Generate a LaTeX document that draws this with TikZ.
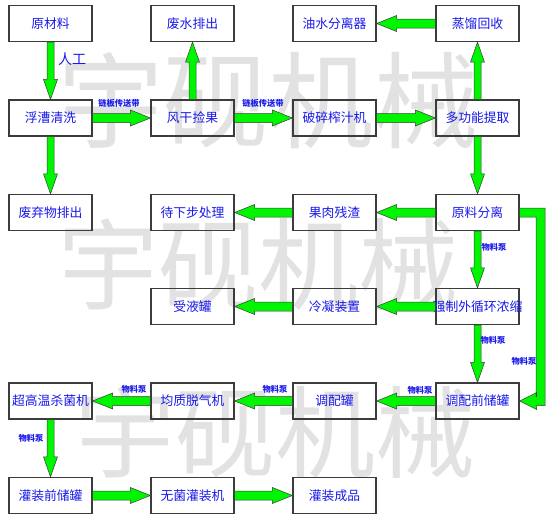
\documentclass[tikz,border=0pt]{standalone}
\usepackage{fontspec}
\newfontfamily\cjk{Noto Sans CJK SC}
\usetikzlibrary{calc}
\definecolor{agreen}{RGB}{0,245,0}
\definecolor{tblue}{RGB}{25,25,235}
\definecolor{wmgray}{RGB}{226,226,226}
\definecolor{edgec}{RGB}{60,60,60}
\newcommand\fatarr[4]{%
 \path[arrfill] let \p1=(#1), \p2=(#2), \n1={atan2(\y2-\y1,\x2-\x1)}, \n2={veclen(\x2-\x1,\y2-\y1)} in
 [shift={(\p1)}, rotate=\n1]
 (0pt,#3pt) -- ({\n2-20pt},#3pt) -- ({\n2-20pt},#4pt) -- ({\n2+0pt},0pt) -- ({\n2-20pt},-#4pt) -- ({\n2-20pt},-#3pt) -- (0pt,-#3pt) -- cycle;}
\begin{document}
\begin{tikzpicture}[x=1pt,y=-1pt,
  box/.style={draw=edgec, line width=1.2pt, minimum width=83pt, minimum height=36pt, inner sep=0pt, font=\cjk\fontsize{12.8}{14}\selectfont, text=tblue},
  arrfill/.style={fill=agreen, draw=edgec, line width=0.5pt, line join=miter},
  lab/.style={font=\cjk\bfseries\fontsize{8.3}{10}\selectfont, text=tblue, inner sep=0pt},
  wm/.style={font=\cjk\fontsize{#1}{#1}\selectfont, text=wmgray, inner sep=0pt, anchor=base}]
\fill[white] (0,0) rectangle (554,520);
\useasboundingbox (0,0) rectangle (554,520);
% watermark
\node[wm=105] (wm1) at (268,140) {宇砚机械};
\node[wm=100] (wm2) at (258,302) {宇砚机械};
\node[wm=100] (wm3) at (275,470) {宇砚机械};
% boxes
\node[box] (ycl) at (50.5,23.5) {原材料};
\node[box] (fsx) at (50.5,118) {浮漕清洗};
\node[box] (fqw) at (50.5,212.5) {废弃物排出};
\node[box] (fspc) at (192.5,23.5) {废水排出};
\node[box] (fgjg) at (192.5,118) {风干捡果};
\node[box] (dxb) at (192.5,212.5) {待下步处理};
\node[box] (syg) at (192.5,306.5) {受液罐};
\node[box] (oil) at (334.5,23.5) {油水分离器};
\node[box] (psz) at (334.5,118) {破碎榨汁机};
\node[box] (grz) at (334.5,212.5) {果肉残渣};
\node[box] (lnz) at (334.5,306.5) {冷凝装置};
\node[box] (zlh) at (477.5,23.5) {蒸馏回收};
\node[box] (dgn) at (477.5,118) {多功能提取};
\node[box] (ylf) at (477.5,212.5) {原料分离};
\node[box] (qzw) at (477.5,306.5) {\makebox[0pt]{强制外循环浓缩}};
\node[box] (cgw) at (50.5,401) {超高温杀菌机};
\node[box] (jzt) at (192.5,401) {均质脱气机};
\node[box] (tpg) at (334.5,401) {调配罐};
\node[box] (tpq) at (477.5,401) {调配前储罐};
\node[box] (gzq) at (50.5,495.5) {灌装前储罐};
\node[box] (wjg) at (192.5,495.5) {无菌灌装机};
\node[box] (gzc) at (334.5,495.5) {灌装成品};
% vertical arrows
\fatarr{ycl.south}{fsx.north}{3.5}{7}
\fatarr{fsx.south}{fqw.north}{3.5}{7}
\fatarr{fgjg.north}{fspc.south}{3.5}{7}
\fatarr{dgn.north}{zlh.south}{3.5}{7}
\fatarr{dgn.south}{ylf.north}{3.5}{7}
\fatarr{ylf.south}{qzw.north}{3.5}{7}
\fatarr{qzw.south}{tpq.north}{3.5}{7}
\fatarr{cgw.south}{gzq.north}{3.5}{7}
% horizontal arrows
\fatarr{zlh.west}{oil.east}{4.5}{8}
\fatarr{fsx.east}{fgjg.west}{4.5}{8}
\fatarr{fgjg.east}{psz.west}{4.5}{8}
\fatarr{psz.east}{dgn.west}{4.5}{8}
\fatarr{ylf.west}{grz.east}{4.5}{8}
\fatarr{grz.west}{dxb.east}{4.5}{8}
\fatarr{qzw.west}{lnz.east}{4.5}{8}
\fatarr{lnz.west}{syg.east}{4.5}{8}
\fatarr{tpq.west}{tpg.east}{4.5}{8}
\fatarr{tpg.west}{jzt.east}{4.5}{8}
\fatarr{jzt.west}{cgw.east}{4.5}{8}
\fatarr{gzq.east}{wjg.west}{4.5}{8}
\fatarr{wjg.east}{gzc.west}{4.5}{8}
% L-shaped return arrow
\coordinate (turn) at (540.5,0);
\path[arrfill] ($(ylf.east)+(0,-4.5)$) -- ($(turn |- ylf.east)+(4.5,-4.5)$) -- ($(turn |- tpq.east)+(4.5,4.5)$) -- ($(tpq.east)+(17,4.5)$) -- ($(tpq.east)+(17,8.5)$) -- (tpq.east) -- ($(tpq.east)+(17,-8.5)$) -- ($(tpq.east)+(17,-4.5)$) -- ($(turn |- tpq.east)+(-4.5,-4.5)$) -- ($(turn |- ylf.east)+(-4.5,4.5)$) -- ($(ylf.east)+(0,4.5)$) -- cycle;
% labels
\node[font=\cjk\fontsize{14}{16}\selectfont, text=tblue, inner sep=0pt] (rg) at (72,59) {人工};
\node[lab] (lb1) at (119,103) {链板传送带};
\node[lab] (lb2) at (263,103) {链板传送带};
\node[lab] (pa) at (494,247) {物料泵};
\node[lab] (pb) at (493,340) {物料泵};
\node[lab] (pc) at (524,361) {物料泵};
\node[lab] (pd) at (420,390) {物料泵};
\node[lab] (pe) at (275,389) {物料泵};
\node[lab] (pf) at (134,389) {物料泵};
\node[lab] (pg) at (31,438) {物料泵};
\end{tikzpicture}
\end{document}
